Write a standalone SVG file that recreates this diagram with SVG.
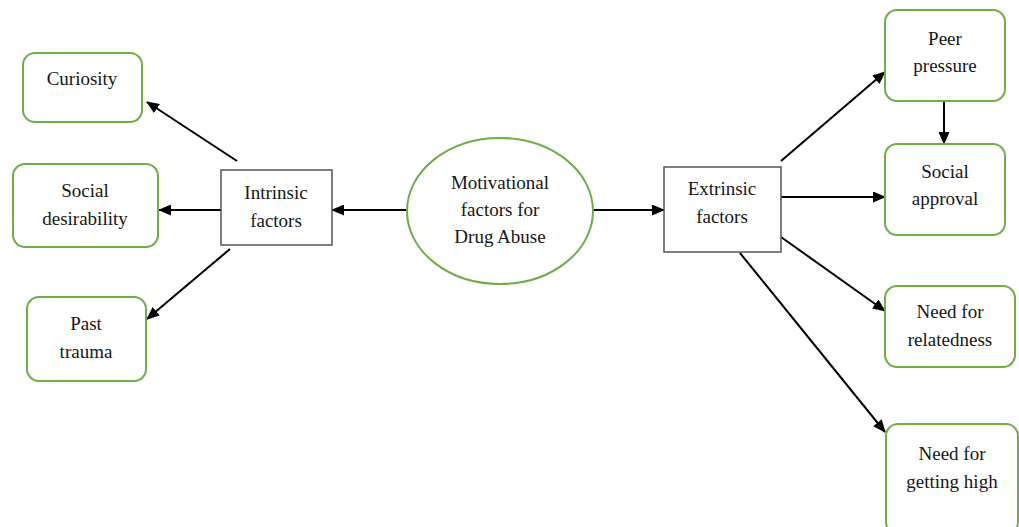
<svg xmlns="http://www.w3.org/2000/svg" width="1019" height="527" viewBox="0 0 1019 527">
<style>
.g{fill:#fff;stroke:#70AD47;stroke-width:2}
.b{fill:#fff;stroke:#555;stroke-width:1.5}
.t{font-family:"Liberation Serif","Times New Roman",serif;font-size:19px;fill:#161616;text-anchor:middle}
.c{stroke:#000;stroke-width:2;fill:none;marker-end:url(#ah)}
</style>
<defs>
<marker id="ah" markerUnits="userSpaceOnUse" markerWidth="13" markerHeight="11" refX="12" refY="5.5" orient="auto">
<path d="M0,0 L13,5.5 L0,11 z" fill="#000"/>
</marker>
</defs>
<rect width="1019" height="527" fill="#fff"/>
<g id="connectors">
<line class="c" x1="237" y1="161" x2="147" y2="102"/>
<line class="c" x1="221" y1="210" x2="159" y2="210"/>
<line class="c" x1="230" y1="249" x2="147" y2="319"/>
<line class="c" x1="407" y1="210" x2="332" y2="210"/>
<line class="c" x1="593" y1="210" x2="664" y2="210"/>
<line class="c" x1="781" y1="161" x2="885" y2="72"/>
<line class="c" x1="781" y1="197" x2="885" y2="197"/>
<line class="c" x1="781" y1="237" x2="885" y2="311"/>
<line class="c" x1="740" y1="253" x2="885" y2="432"/>
<line class="c" x1="944" y1="101" x2="944" y2="144"/>
</g>
<g id="curiosity"><rect class="g" x="23" y="53" width="119" height="69" rx="12"/><text class="t" x="82" y="85">Curiosity</text></g>
<g id="social-desirability"><rect class="g" x="13" y="164" width="145" height="83" rx="12"/><text class="t" x="85" y="197">Social</text><text class="t" x="85" y="225">desirability</text></g>
<g id="past-trauma"><rect class="g" x="27" y="297" width="119" height="84" rx="12"/><text class="t" x="86" y="330">Past</text><text class="t" x="86" y="358">trauma</text></g>
<g id="intrinsic"><rect class="b" x="221" y="170" width="111" height="75"/><text class="t" x="276" y="199">Intrinsic</text><text class="t" x="276" y="227">factors</text></g>
<g id="motivational"><ellipse class="g" cx="500" cy="211" rx="93" ry="73"/><text class="t" x="500" y="189">Motivational</text><text class="t" x="500" y="216">factors for</text><text class="t" x="500" y="243">Drug Abuse</text></g>
<g id="extrinsic"><rect class="b" x="664" y="167" width="117" height="85"/><text class="t" x="722" y="195">Extrinsic</text><text class="t" x="722" y="223">factors</text></g>
<g id="peer-pressure"><rect class="g" x="885" y="10" width="120" height="91" rx="12"/><text class="t" x="945" y="45">Peer</text><text class="t" x="945" y="72">pressure</text></g>
<g id="social-approval"><rect class="g" x="885" y="144" width="120" height="91" rx="12"/><text class="t" x="945" y="178">Social</text><text class="t" x="945" y="205">approval</text></g>
<g id="relatedness"><rect class="g" x="885" y="286" width="130" height="81" rx="12"/><text class="t" x="950" y="318">Need for</text><text class="t" x="950" y="346">relatedness</text></g>
<g id="getting-high"><rect class="g" x="886" y="424" width="132" height="110" rx="12"/><text class="t" x="952" y="460">Need for</text><text class="t" x="952" y="488">getting high</text></g>
</svg>
